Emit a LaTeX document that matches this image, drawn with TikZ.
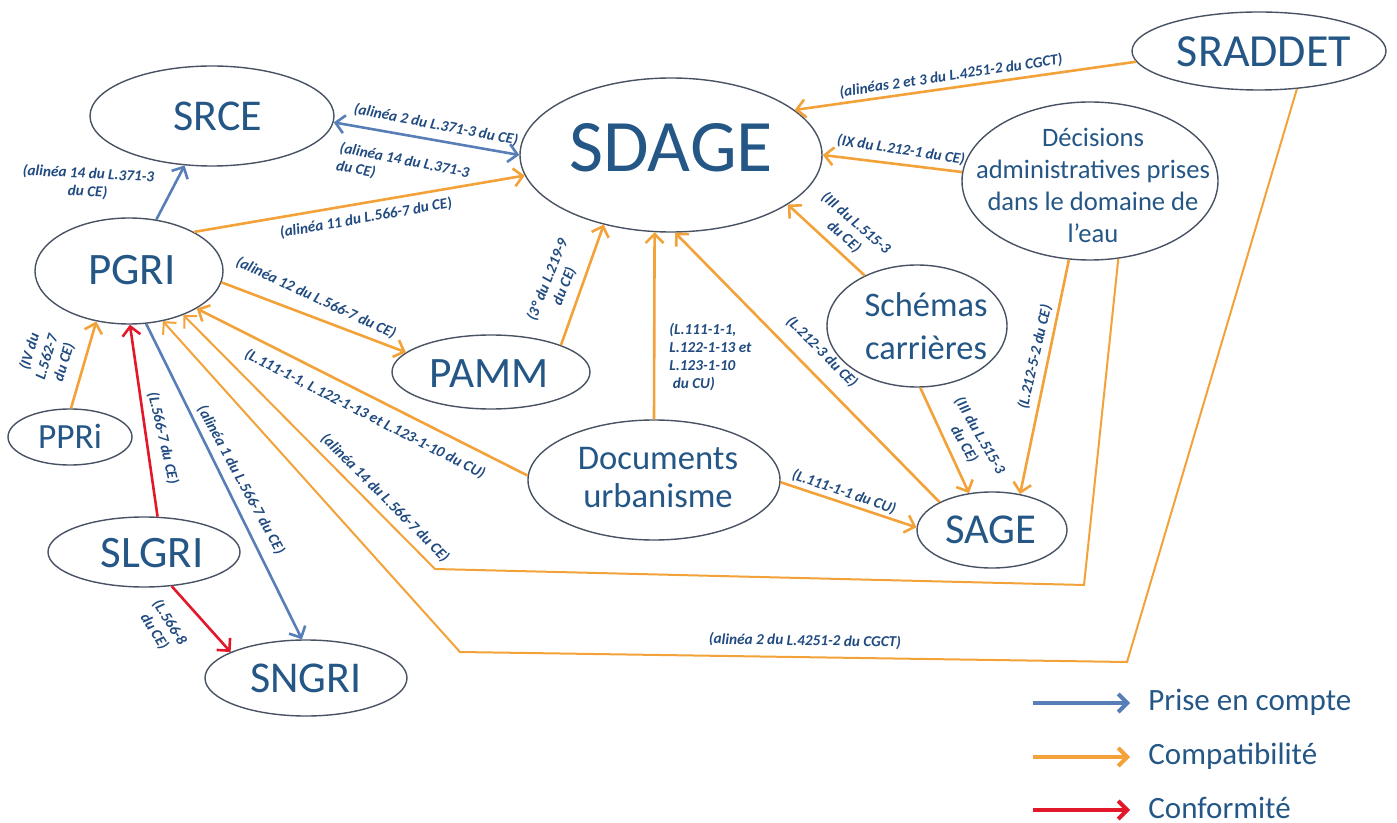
\documentclass[tikz,border=0pt]{standalone}
\usepackage{fontspec}
\setmainfont{Carlito}
\usetikzlibrary{shapes.geometric,arrows.meta}
\definecolor{pecblue}{RGB}{88,126,184}
\definecolor{compatorange}{RGB}{242,162,56}
\definecolor{confred}{RGB}{226,24,42}
\definecolor{docblue}{RGB}{36,86,134}
\definecolor{lblblue}{RGB}{33,75,128}
\definecolor{rimgray}{RGB}{72,82,98}

\begin{document}
\begin{tikzpicture}[x=0.5pt,y=-0.5pt,
    doc/.style={ellipse,draw=rimgray,line width=0.7pt,inner sep=0pt},
    doctxt/.style={text=docblue,align=center,inner sep=0pt},
    lbl/.style={text=lblblue,font=\fontsize{7.6}{9}\selectfont\bfseries\itshape,inner sep=0pt},
    pec/.style={draw=pecblue,line width=1.3pt},
    compat/.style={draw=compatorange,line width=1.3pt},
    conf/.style={draw=confred,line width=1.3pt},
    >={Straight Barb[length=4.5pt,width=9pt]}]
        \useasboundingbox (0,0) rectangle (1397,823);
        \node[doc,minimum width=151pt,minimum height=77pt] (sdage) at (671,155) {};
        \node[doctxt,font=\fontsize{37}{40}\selectfont] (sdagetxt) at (671,148) {SDAGE};
        \node[doc,minimum width=122pt,minimum height=50pt] (srce) at (212,116) {};
        \node[doctxt,font=\fontsize{22}{26}\selectfont] (srcetxt) at (218,116) {SRCE};
        \node[doc,minimum width=127pt,minimum height=39pt] (sraddet) at (1259,51) {};
        \node[doctxt,font=\fontsize{23}{26}\selectfont] (sraddettxt) at (1264,52) {SRADDET};
        \node[doc,minimum width=128pt,minimum height=79pt] (decis) at (1090,181) {};
        \node[doctxt,font=\fontsize{13.3}{16}\selectfont] (decistxt) at (1093,185) {Décisions\\administratives prises\\dans le domaine de\\l’eau};
        \node[doc,minimum width=90pt,minimum height=61pt] (schem) at (917,326) {};
        \node[doctxt,font=\fontsize{17.2}{21.5}\selectfont] (schemtxt) at (926,326) {Schémas\\carrières};
        \node[doc,minimum width=75pt,minimum height=38pt] (sage) at (992,530) {};
        \node[doctxt,font=\fontsize{21.3}{24}\selectfont] (sagetxt) at (991,530) {SAGE};
        \node[doc,minimum width=126pt,minimum height=60pt] (docu) at (654,480) {};
        \node[doctxt,font=\fontsize{17.3}{19}\selectfont] (docutxt) at (658,478) {Documents\\urbanisme};
        \node[doc,minimum width=99pt,minimum height=37pt] (pamm) at (491,372) {};
        \node[doctxt,font=\fontsize{21.7}{24}\selectfont] (pammtxt) at (489,374) {PAMM};
        \node[doc,minimum width=94pt,minimum height=53pt] (pgri) at (129,271) {};
        \node[doctxt,font=\fontsize{22.5}{26}\selectfont] (pgritxt) at (132,270) {PGRI};
        \node[doc,minimum width=62pt,minimum height=28pt] (ppri) at (70,437) {};
        \node[doctxt,font=\fontsize{17.7}{20}\selectfont] (ppritxt) at (70,436) {PPRi};
        \node[doc,minimum width=96pt,minimum height=35pt] (slgri) at (144,552) {};
        \node[doctxt,font=\fontsize{22.5}{26}\selectfont] (slgritxt) at (152,553) {SLGRI};
        \node[doc,minimum width=101pt,minimum height=38pt] (sngri) at (306,678) {};
        \node[doctxt,font=\fontsize{22}{26}\selectfont] (sngritxt) at (306,678) {SNGRI};
        \coordinate (c1) at (1084,585);
        \coordinate (c2) at (435,569);
        \coordinate (c3) at (1127,662);
        \coordinate (c4) at (460,652);
        \draw[pec,<->] (srce.-3) -- (sdage.180);
        \draw[pec,->] (pgri.62) -- (srce.241);
        \draw[compat,->] (pgri.31) -- (sdage.188.5);
        \draw[compat,->] (pgri.353) -- (pamm.167.5);
        \draw[compat,->] (pamm.21) -- (sdage.226);
        \draw[compat,->] (docu.90) -- (sdage.258);
        \draw[compat,->] (sage.152) -- (sdage.273);
        \draw[compat,->] (schem.136) -- (sdage.337);
        \draw[compat,->] (decis.176) -- (sdage.0);
        \draw[compat,->] (sraddet.185) -- (sdage.20);
        \draw[compat,->] (schem.273) -- (sage.122);
        \draw[compat,->] (decis.255) -- (sage.52);
        \draw[compat,->] (docu.359) -- (sage.178);
        \draw[compat,->] (docu.178) -- (pgri.331);
        \draw[compat,->,line width=1pt] (decis.290) -- (c1) -- (c2) -- (pgri.321);
        \draw[compat,->,line width=1pt] (sraddet.315) -- (c3) -- (c4) -- (pgri.304);
        \draw[compat,->] (ppri.88) -- (pgri.237);
        \draw[conf,->] (slgri.69) -- (pgri.271);
        \draw[pec,->] (pgri.288) -- (sngri.96);
        \draw[conf,->] (slgri.309) -- (sngri.161);
        \node[lbl,rotate=-11] (t1) at (436,125) {(alinéa 2 du L.371-3 du CE)};
        \node[lbl,rotate=-11,anchor=north west,align=left] (t2) at (341,141) {(alinéa 14 du L.371-3\\du CE)};
        \node[lbl,rotate=-3,align=center] (t3) at (88,183) {(alinéa 14 du L.371-3\\du CE)};
        \node[lbl,rotate=10] (t4) at (366,218) {(alinéa 11 du L.566-7 du CE)};
        \node[lbl,rotate=-25] (t5) at (316,298) {(alinéa 12 du L.566-7 du CE)};
        \node[lbl,rotate=68,align=center] (t6) at (556,283) {(3° du L.219-9\\du CE)};
        \node[lbl,anchor=north west,align=left] (t7) at (669,323) {(L.111-1-1,\\L.122-1-13 et\\L.123-1-10\\\ du CU)};
        \node[lbl,rotate=-45] (t8) at (822,352) {(L.212-3 du CE)};
        \node[lbl,rotate=-41,align=center] (t9) at (850,230) {(III du L.515-3\\du CE)};
        \node[lbl,rotate=-8.5] (t10) at (901,150) {(IX du L.212-1 du CE)};
        \node[lbl,rotate=8.5] (t11) at (951,76) {(alinéas 2 et 3 du L.4251-2 du CGCT)};
        \node[lbl,rotate=-60,align=center] (t12) at (972,440) {(III du L.515-3\\du CE)};
        \node[lbl,rotate=77] (t13) at (1035,357) {(L.212-5-2 du CE)};
        \node[lbl,rotate=-19] (t14) at (844,492) {(L.111-1-1 du CU)};
        \node[lbl,rotate=-27] (t15) at (365,414) {(L.111-1-1, L.122-1-13 et L.123-1-10 du CU)};
        \node[lbl,rotate=-45] (t16) at (385,498) {(alinéa 14 du L.566-7 du CE)};
        \node[lbl,rotate=-1] (t17) at (805,641) {(alinéa 2 du L.4251-2 du CGCT)};
        \node[lbl,rotate=73,align=center] (t18) at (47,357) {(IV du\\L.562-7\\du CE)};
        \node[lbl,rotate=-77] (t19) at (163,438) {(L.566-7 du CE)};
        \node[lbl,rotate=-61.5] (t20) at (241,480) {(alinéa 1 du L.566-7 du CE)};
        \node[lbl,rotate=-58,align=center] (t21) at (162,627) {(L.566-8\\du CE)};
        \node[doctxt,font=\fontsize{15.5}{18}\selectfont,anchor=base west] (lpec) at (1148,710) {Prise en compte};
        \node[doctxt,font=\fontsize{15.5}{18}\selectfont,anchor=base west] (lcompat) at (1148,764) {Compatibilité};
        \node[doctxt,font=\fontsize{15.5}{18}\selectfont,anchor=base west] (lconf) at (1148,818) {Conformité};
        \coordinate (kpec) at (1033,703);
        \coordinate (kcompat) at (1033,757);
        \coordinate (kconf) at (1033,810);
        \draw[pec,->,line width=2pt,shorten >=9pt] (kpec) -- (kpec -| lpec.west);
        \draw[compat,->,line width=2pt,shorten >=9pt] (kcompat) -- (kcompat -| lcompat.west);
        \draw[conf,->,line width=2pt,shorten >=9pt] (kconf) -- (kconf -| lconf.west);
    \end{tikzpicture}
\end{document}
